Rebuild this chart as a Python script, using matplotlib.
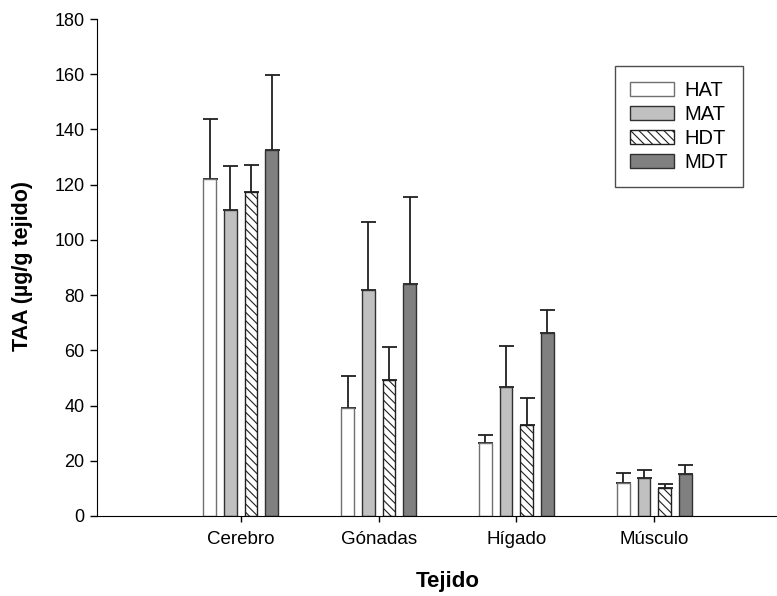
import matplotlib
matplotlib.use("Agg")
import matplotlib.pyplot as plt
import numpy as np

plt.rcParams['font.family'] = ['Liberation Sans', 'DejaVu Sans']
plt.rcParams['hatch.linewidth'] = 0.8

categories = ["Cerebro", "Gónadas", "Hígado", "Músculo"]
series = ["HAT", "MAT", "HDT", "MDT"]
HAT = [122.0, 39.2, 26.5, 12.1]
MAT = [110.9, 81.9, 46.8, 13.6]
HDT = [117.5, 49.4, 33.0, 10.0]
MDT = [132.6, 84.0, 66.4, 15.1]
HAT_err = [21.7, 11.6, 3.0, 3.6]
MAT_err = [15.9, 24.6, 14.6, 2.9]
HDT_err = [9.6, 11.8, 9.9, 1.7]
MDT_err = [27.1, 31.5, 8.3, 3.3]

values = [HAT, MAT, HDT, MDT]
errors = [HAT_err, MAT_err, HDT_err, MDT_err]
facecolors = ["white", "#c0c0c0", "white", "#808080"]
edgecolors = ["#707070", "#303030", "#202020", "#303030"]
hatches = [None, None, "\\\\\\\\", None]

fig = plt.figure(figsize=(7.77, 5.96), dpi=100)
ax = fig.add_axes([97/777, 1-516/596, 1-97/777, (516-19)/596])

x = np.arange(len(categories))
pitch = 0.15
width = 0.092
for i in range(4):
    pos = x + (i - 1.5) * pitch
    ax.bar(pos, values[i], width, color=facecolors[i], edgecolor=edgecolors[i],
           hatch=hatches[i], linewidth=1.0, label=series[i], zorder=2)
    ax.errorbar(pos, values[i], yerr=[np.zeros(4), errors[i]], fmt='none',
                ecolor='#202020', elinewidth=1.3, capsize=5.4, capthick=1.3, zorder=1)

ax.set_xlim(-1.043, 3.89)
ax.set_ylim(0, 180)
ax.set_yticks(np.arange(0, 181, 20))
ax.set_xticks(x)
ax.set_xticklabels(categories)
ax.spines['top'].set_visible(False)
ax.spines['right'].set_visible(False)
ax.tick_params(axis='y', labelsize=13, direction='out', length=5, width=1, pad=4)
ax.tick_params(axis='x', labelsize=13.5, direction='out', length=4, width=1, pad=7)
ax.set_xlabel("Tejido", fontsize=16, fontweight='bold')
ax.set_ylabel("TAA (µg/g tejido)", fontsize=15.5, fontweight='bold')
ax.xaxis.set_label_coords((448-97)/680, (516-571)/497)
ax.yaxis.set_label_coords((33-97)/680, (516-266)/497)

leg = ax.legend(loc='upper left', bbox_to_anchor=(615/777, 1-66/596), bbox_transform=fig.transFigure,
                fontsize=14.5, frameon=True, fancybox=False, edgecolor='#202020',
                handlelength=2.2, handleheight=0.7, labelspacing=0.25,
                borderpad=0.75, handletextpad=0.5, borderaxespad=0)
leg.get_frame().set_linewidth(1.0)

fig.savefig("out.png", dpi=100)
